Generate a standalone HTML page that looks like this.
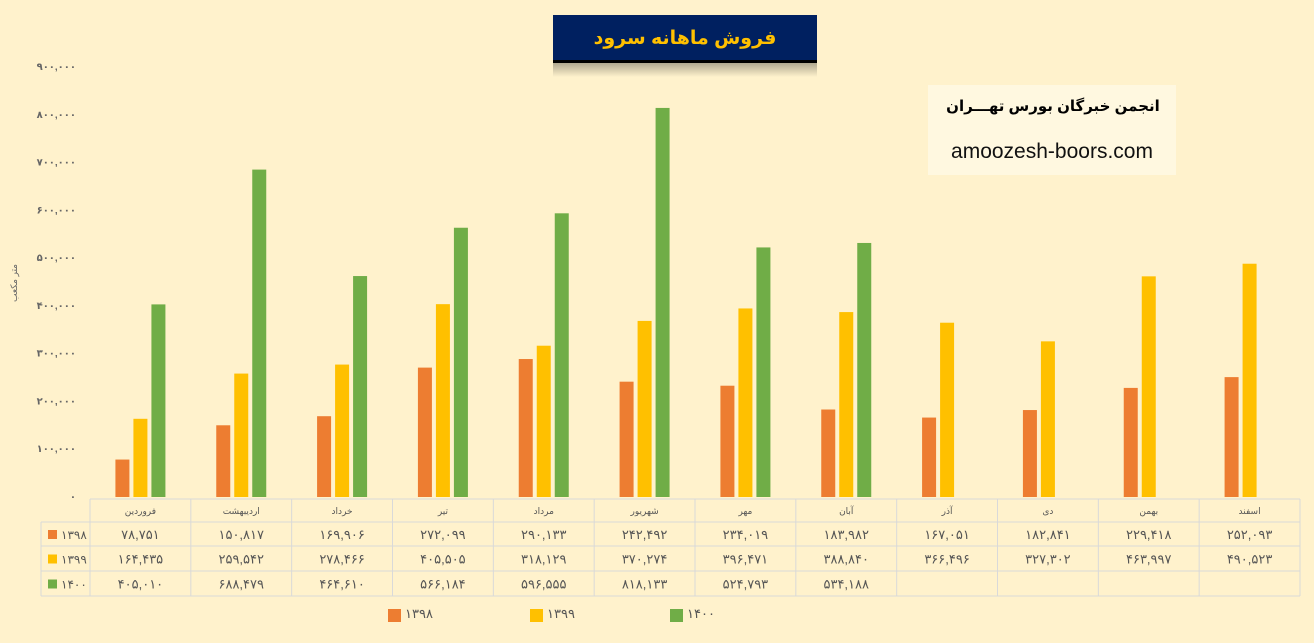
<!DOCTYPE html>
<html><head><meta charset="utf-8">
<style>
body{margin:0;background:#fff2cc;}
#c{position:relative;width:1314px;height:643px;overflow:hidden;background:#fff2cc;font-family:"Liberation Sans","Noto Sans CJK SC",sans-serif;}
svg text{font-family:"Liberation Sans","DejaVu Sans",sans-serif;}
</style></head><body>
<div id="c">
<svg id="s" width="1314" height="643" xmlns="http://www.w3.org/2000/svg">
<defs><linearGradient id="sh" x1="0" y1="0" x2="0" y2="1"><stop offset="0" stop-color="#b0a890"/><stop offset="1" stop-color="#fff2cc"/></linearGradient></defs>
<rect x="553" y="63" width="264" height="14" fill="url(#sh)"/>
<rect x="553" y="60" width="264" height="3" fill="#000"/>
<rect x="553" y="15" width="264" height="45" fill="#002060"/>
<text x="685" y="44" text-anchor="middle" font-size="19" font-weight="bold" fill="#ffc000">فروش ماهانه سرود</text>
<rect x="928" y="85" width="248" height="90" fill="#fff8e0"/>
<text x="1053" y="111" text-anchor="middle" font-size="15" font-weight="bold" fill="#000">انجمن خبرگان بورس تهـــران</text>
<text x="1052" y="158" text-anchor="middle" font-size="21" fill="#111">amoozesh-boors.com</text>
<text transform="translate(17,283) rotate(-90)" text-anchor="middle" font-size="9" fill="#666">متر مکعب</text>
<g id="g"></g>
</svg>
</div>
<script>
const categories=["فروردین","اردیبهشت","خرداد","تیر","مرداد","شهریور","مهر","آبان","آذر","دی","بهمن","اسفند"];
const s1398=[78751,150817,169906,272099,290133,242492,234019,183982,167051,182841,229418,252093];
const s1399=[164435,259542,278466,405505,318129,370274,396471,388840,366496,327302,463997,490523];
const s1400=[405010,688479,464610,566184,596555,818133,524793,534188,null,null,null,null];
const seriesNames=["1398","1399","1400"];
const yTicks=[0,100000,200000,300000,400000,500000,600000,700000,800000,900000];
const colors=["#ed7d31","#ffc000","#70ad47"];
const NS="http://www.w3.org/2000/svg";
const g=document.getElementById('g');
const x0=90,x1=1300,yBase=497,yTop=69,yMax=900000;
const cw=(x1-x0)/categories.length;
function y(v){return yBase-(v/yMax)*(yBase-yTop);}
function xc(i){return x0+cw*(i+0.5);}
function fa(n){return String(n).replace(/\d/g,d=>"۰۱۲۳۴۵۶۷۸۹"[d]);}
function fmt(v){return fa(v.toString().replace(/\B(?=(\d{3})+(?!\d))/g,","));}
function mk(t,a){const e=document.createElementNS(NS,t);for(const k in a)e.setAttribute(k,a[k]);g.appendChild(e);return e;}
yTicks.forEach(v=>{const t=mk('text',{x:76,y:yBase-(v/yMax)*(yBase-67)+3,'text-anchor':'end','font-size':10,'font-weight':'bold',fill:'#666'});t.textContent=fmt(v);

});
const series=[s1398,s1399,s1400];
const bw=14,gap=4;
series.forEach((arr,si)=>{arr.forEach((v,i)=>{if(v==null)return;
const bx=xc(i)-bw*1.5-gap+si*(bw+gap);
const r=mk('rect',{x:bx,y:y(v),width:bw,height:yBase-y(v),fill:colors[si]});

});});
const lc='#d9d9d9';
const rows=[499,522,546,571,596];
mk('line',{x1:x0,y1:rows[0],x2:x1,y2:rows[0],stroke:lc});
for(let r=1;r<rows.length;r++)mk('line',{x1:41,y1:rows[r],x2:x1,y2:rows[r],stroke:lc});
mk('line',{x1:41,y1:rows[1],x2:41,y2:rows[4],stroke:lc});
for(let i=0;i<=categories.length;i++)mk('line',{x1:x0+cw*i,y1:rows[0],x2:x0+cw*i,y2:rows[4],stroke:lc});
categories.forEach((c,i)=>{const t=mk('text',{x:xc(i),y:514,'text-anchor':'middle','font-size':9,fill:'#555'});t.textContent=c;

});
series.forEach((arr,si)=>{const ry=(rows[si+1]+rows[si+2])/2;
const sq=mk('rect',{x:48,y:ry-4,width:9,height:9,fill:colors[si]});


const lt=mk('text',{x:61,y:ry+5,'font-size':12,fill:'#555'});lt.textContent=fa(seriesNames[si]);


arr.forEach((v,i)=>{if(v==null)return;const t=mk('text',{x:xc(i),y:ry+5,'text-anchor':'middle','font-size':13,fill:'#555'});t.textContent=fmt(v);

});});
const lx=[388,530,670];
series.forEach((a,si)=>{const r=mk('rect',{x:lx[si],y:609,width:13,height:13,fill:colors[si]});


const t=mk('text',{x:lx[si]+17,y:618,'font-size':13,fill:'#555'});t.textContent=fa(seriesNames[si]);

});
</script>
</body></html>
